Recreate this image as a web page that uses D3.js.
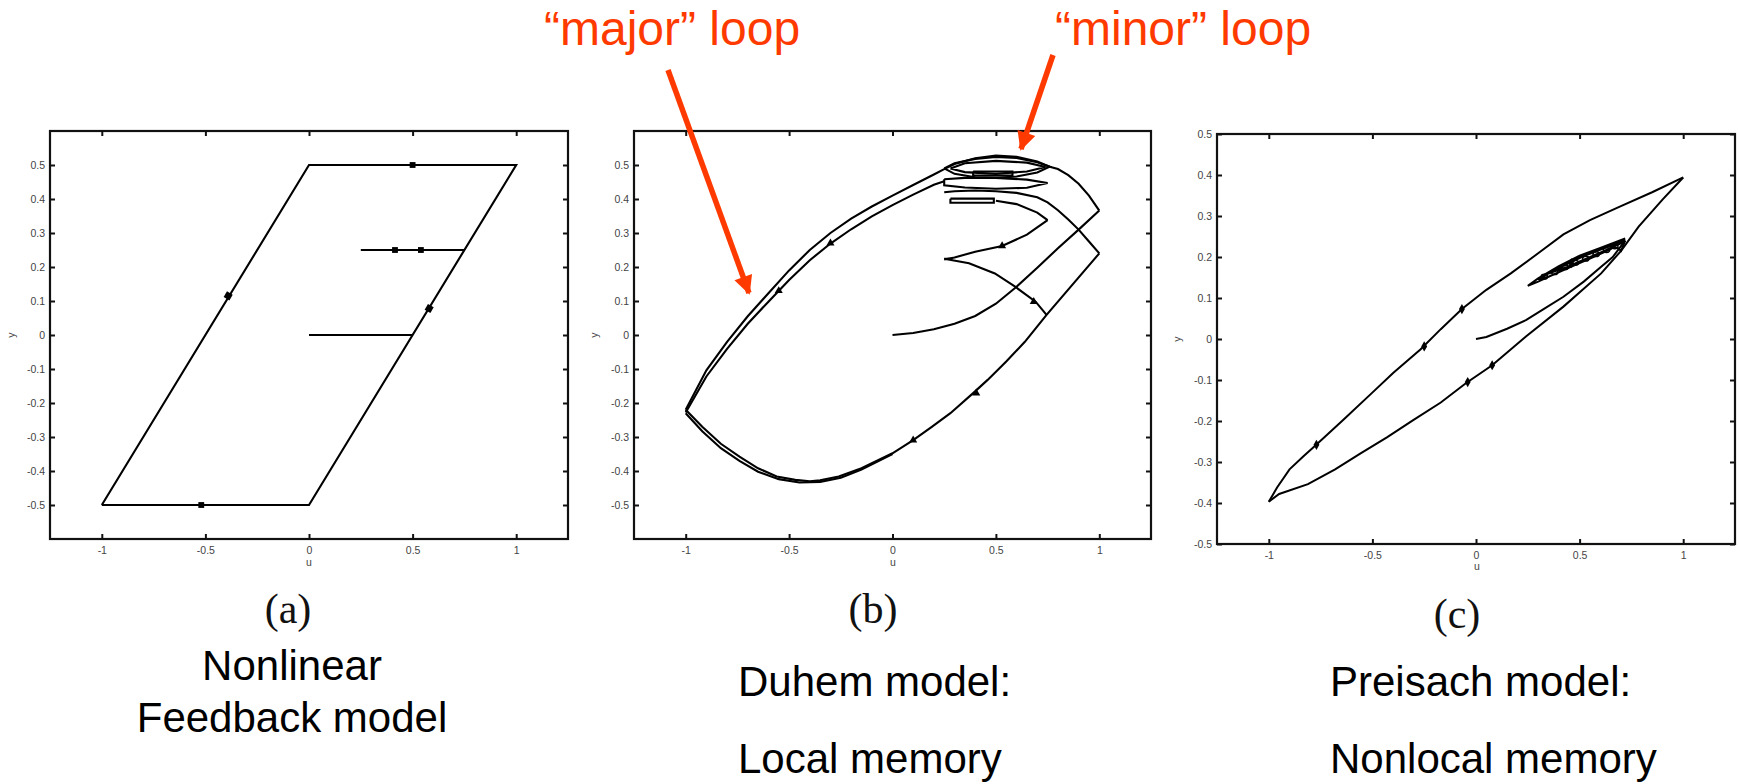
<!DOCTYPE html>
<html><head><meta charset="utf-8">
<script src="https://cdn.jsdelivr.net/npm/d3@7"></script>
<style>
html,body{margin:0;padding:0;background:#fff;}
svg{display:block;}
</style></head>
<body>
<svg id="fig" width="1740" height="784"></svg>
<script>
// ---- tick values ----
const uTicks = [-1, -0.5, 0, 0.5, 1];
const yTicks = [-0.5, -0.4, -0.3, -0.2, -0.1, 0, 0.1, 0.2, 0.3, 0.4, 0.5];

// ---- (a) nonlinear feedback model ----
const nlfMajor = [[-1,-0.5],[0,0.5],[1,0.5],[0,-0.5],[-1,-0.5]];
const nlfStart = [[0,0],[0.5,0]];
const nlfInner = [[0.75,0.25],[0.25,0.25]];
const nlfMarks = [[0.5,0.5],[-0.52,-0.5],[0.415,0.25],[0.54,0.25]];
const nlfSlopeMarks = [[-0.39,0.115],[0.58,0.078]];

// ---- (b) Duhem model ----
const duhemInitial = [[0,0],[0.1,0.006],[0.2,0.017],[0.3,0.033],[0.4,0.056],[0.5,0.092],[0.6,0.142],[0.7,0.198],[0.8,0.255],[0.9,0.31],[1,0.366]];
const duhemUpperOuter = [[1,0.366],[0.95,0.41],[0.9,0.445],[0.85,0.47],[0.8,0.488],[0.76,0.495],[0.7,0.51],[0.6,0.524],[0.5,0.528],[0.4,0.52],[0.3,0.503],[0.25,0.488],[0.2,0.472],[0.1,0.441],[0,0.41],[-0.1,0.378],[-0.2,0.342],[-0.3,0.3],[-0.4,0.25],[-0.5,0.19],[-0.6,0.123],[-0.7,0.055],[-0.8,-0.02],[-0.9,-0.104],[-1,-0.22]];
const duhemLower = [[-1,-0.22],[-0.92,-0.27],[-0.83,-0.32],[-0.74,-0.358],[-0.65,-0.392],[-0.56,-0.416],[-0.47,-0.426],[-0.4,-0.43],[-0.35,-0.427],[-0.26,-0.416],[-0.15,-0.392],[0,-0.348],[0.1,-0.309],[0.19,-0.27],[0.28,-0.23],[0.39,-0.171],[0.46,-0.132],[0.55,-0.078],[0.64,-0.02],[0.745,0.059],[0.89,0.162],[1,0.24]];
const duhemLower2 = [[-1,-0.23],[-0.92,-0.283],[-0.83,-0.333],[-0.74,-0.37],[-0.65,-0.402],[-0.55,-0.424],[-0.45,-0.434],[-0.35,-0.432],[-0.25,-0.42],[-0.15,-0.396],[0,-0.35]];
const duhemUpperInner = [[1,0.24],[0.95,0.275],[0.9,0.31],[0.85,0.34],[0.8,0.367],[0.75,0.39],[0.7,0.405],[0.6,0.418],[0.5,0.423],[0.4,0.425],[0.3,0.423],[0.25,0.42]];
const duhemDescent2 = [[0.25,0.452],[0.2,0.442],[0.1,0.413],[0,0.382],[-0.1,0.349],[-0.2,0.311],[-0.3,0.269],[-0.4,0.22],[-0.5,0.162],[-0.6,0.098],[-0.7,0.033],[-0.8,-0.041],[-0.9,-0.122],[-1,-0.228]];
const duhemMinorA = [[0.25,0.49],[0.3,0.505],[0.4,0.518],[0.5,0.524],[0.6,0.521],[0.7,0.508],[0.76,0.495],[0.7,0.478],[0.6,0.466],[0.5,0.462],[0.4,0.464],[0.3,0.474],[0.25,0.49]];
const duhemMinorB = [[0.28,0.49],[0.35,0.505],[0.5,0.512],[0.65,0.507],[0.74,0.494],[0.65,0.481],[0.5,0.474],[0.35,0.479],[0.28,0.49]];
const duhemMinorC = [[0.39,0.481],[0.58,0.481],[0.58,0.469],[0.39,0.469],[0.39,0.481]];
const duhemMinorD = [[0.25,0.458],[0.35,0.462],[0.5,0.462],[0.65,0.457],[0.75,0.447],[0.65,0.433],[0.5,0.43],[0.35,0.434],[0.25,0.44],[0.25,0.458]];
const duhemMinorE = [[0.28,0.401],[0.49,0.401],[0.49,0.389],[0.28,0.389],[0.28,0.401]];
const duhemReturnUp = [[0.25,0.222],[0.3,0.228],[0.4,0.245],[0.53,0.262],[0.65,0.295],[0.75,0.338]];
const duhemReturnBack = [[0.75,0.338],[0.7,0.36],[0.6,0.385],[0.5,0.395]];
const duhemDrop = [[0.29,0.224],[0.25,0.224],[0.37,0.211],[0.495,0.181],[0.593,0.142],[0.692,0.098],[0.745,0.059]];
const duhemMarks = [[-0.3,0.27],[0.53,0.262],[0.683,0.098],[0.405,-0.171],[-0.55,0.13],[0.1,-0.309]];

// ---- (c) Preisach model ----
const preisUpper = [[-1,-0.397],[-0.96,-0.362],[-0.9,-0.318],[-0.83,-0.285],[-0.775,-0.26],[-0.64,-0.197],[-0.503,-0.132],[-0.4,-0.083],[-0.267,-0.025],[-0.17,0.024],[-0.068,0.073],[0.05,0.12],[0.168,0.16],[0.3,0.209],[0.422,0.255],[0.55,0.29],[0.694,0.323],[0.85,0.358],[1,0.394]];
const preisLower = [[-1,-0.397],[-0.95,-0.378],[-0.811,-0.354],[-0.68,-0.318],[-0.557,-0.279],[-0.43,-0.24],[-0.303,-0.198],[-0.17,-0.155],[-0.049,-0.108],[0.078,-0.064],[0.241,0.006],[0.422,0.079],[0.604,0.16],[0.7,0.215],[0.785,0.274],[0.9,0.34],[1,0.394]];
const preisInitial = [[0,0],[0.05,0.005],[0.15,0.025],[0.241,0.046],[0.33,0.074],[0.422,0.103],[0.52,0.14],[0.604,0.176],[0.66,0.2],[0.72,0.24]];
const preisMinor = [[0.72,0.245],[0.6,0.222],[0.5,0.203],[0.4,0.178],[0.3,0.148],[0.25,0.13],[0.3,0.14],[0.4,0.163],[0.5,0.186],[0.6,0.21],[0.72,0.24],
  [0.6,0.219],[0.5,0.199],[0.4,0.174],[0.3,0.146],[0.35,0.152],[0.45,0.174],[0.55,0.196],[0.65,0.219],[0.72,0.242],
  [0.62,0.222],[0.52,0.202],[0.42,0.178],[0.34,0.158],[0.44,0.176],[0.54,0.198],[0.64,0.219],[0.72,0.238],
  [0.66,0.232],[0.7,0.215],[0.72,0.24]];
const preisLoopRings = [[0.33,0.152],[0.38,0.163],[0.43,0.175],[0.48,0.186],[0.53,0.196],[0.58,0.207],[0.63,0.217],[0.67,0.226]];
const preisMarks = [[-0.068,0.073],[-0.25,-0.018],[-0.77,-0.258],[0.078,-0.064],[0.46,0.185],[-0.04,-0.105]];

// ---- layout ----
const panels = [
  {id:'a', x0:50,  x1:568,  y0:539, y1:131, yDom:[-0.6,0.6], yLab:15,   uLab:[309,566]},
  {id:'b', x0:634, x1:1151, y0:539, y1:131, yDom:[-0.6,0.6], yLab:598,  uLab:[893,566]},
  {id:'c', x0:1217,x1:1735, y0:544, y1:134, yDom:[-0.5,0.5], yLab:1181, uLab:[1477,570]}
];

const svg = d3.select('#fig');
svg.append('rect').attr('width',1740).attr('height',784).attr('fill','#fff');

const fmt = v => (v === 0 ? '0' : String(v));
const sans = 'Liberation Sans, Arial, Helvetica, sans-serif';

function buildPanel(p) {
  const x = d3.scaleLinear().domain([-1.25,1.25]).range([p.x0,p.x1]);
  const y = d3.scaleLinear().domain(p.yDom).range([p.y0,p.y1]);
  const g = svg.append('g').attr('class','panel-'+p.id);
  const tl = 5;
  // ticks point inward on all four sides of the box
  const axB = d3.axisBottom(x).tickValues(uTicks).tickSize(-tl).tickPadding(8).tickFormat(fmt);
  const axT = d3.axisTop(x).tickValues(uTicks).tickSize(-tl).tickFormat('');
  const axL = d3.axisLeft(y).tickValues(yTicks).tickSize(-tl).tickPadding(5).tickFormat(fmt);
  const axR = d3.axisRight(y).tickValues(yTicks).tickSize(-tl).tickFormat('');
  const style = sel => {
    sel.select('.domain').remove();
    sel.selectAll('.tick line').attr('stroke','#111').attr('stroke-width',2);
    sel.selectAll('.tick text').attr('fill','#444').attr('font-family',sans).attr('font-size',10.5);
  };
  g.append('g').attr('transform',`translate(0,${p.y0})`).call(axB).call(style);
  g.append('g').attr('transform',`translate(0,${p.y1})`).call(axT).call(style);
  g.append('g').attr('transform',`translate(${p.x0},0)`).call(axL).call(style);
  g.append('g').attr('transform',`translate(${p.x1},0)`).call(axR).call(style);
  g.append('rect').attr('x',p.x0).attr('y',p.y1).attr('width',p.x1-p.x0).attr('height',p.y0-p.y1)
    .attr('fill','none').attr('stroke','#111').attr('stroke-width',2.2);
  g.append('text').attr('transform',`translate(${p.yLab},${(p.y0+p.y1)/2}) rotate(-90)`)
    .attr('text-anchor','middle').attr('font-family',sans)
    .attr('font-size',10.5).attr('fill','#444').text('y');
  g.append('text').attr('x',p.uLab[0]).attr('y',p.uLab[1]).attr('text-anchor','middle')
    .attr('font-family',sans).attr('font-size',10.5).attr('fill','#444').text('u');
  const line = d3.line().x(d=>x(d[0])).y(d=>y(d[1]));
  const plot = (pts, w=2.1) => g.append('path').attr('d',line(pts)).attr('fill','none')
    .attr('stroke','#000').attr('stroke-width',w).attr('stroke-linejoin','miter');
  const marks = (pts, type, size, rot=0) => g.selectAll(null).data(pts).enter().append('path')
    .attr('transform',d=>`translate(${x(d[0])},${y(d[1])}) rotate(${rot})`)
    .attr('d',d3.symbol().type(type).size(size)).attr('fill','#000');
  const rings = (pts, r) => g.selectAll(null).data(pts).enter().append('ellipse')
    .attr('cx',d=>x(d[0])).attr('cy',d=>y(d[1])).attr('rx',r).attr('ry',r*0.75)
    .attr('fill','none').attr('stroke','#000').attr('stroke-width',1.4);
  return {plot, marks, rings};
}

const A = buildPanel(panels[0]);
A.plot(nlfMajor); A.plot(nlfStart); A.plot(nlfInner);
A.marks(nlfMarks, d3.symbolSquare, 34);
A.marks(nlfSlopeMarks, d3.symbolSquare, 44, 30);

const B = buildPanel(panels[1]);
[duhemInitial, duhemUpperOuter, duhemLower, duhemLower2, duhemUpperInner, duhemDescent2,
 duhemMinorA, duhemMinorB, duhemMinorC, duhemMinorD, duhemMinorE,
 duhemReturnUp, duhemReturnBack, duhemDrop].forEach(s => B.plot(s, 2.1));
B.marks(duhemMarks, d3.symbolTriangle, 28);

const C = buildPanel(panels[2]);
[preisUpper, preisLower, preisInitial, preisMinor].forEach(s => C.plot(s, 2.0));
C.rings(preisLoopRings, 3.2);
C.marks(preisMarks, d3.symbolDiamond, 30);

// ---- annotations ----
const red = '#ff3a00';
const defs = svg.append('defs');
defs.append('marker').attr('id','head').attr('viewBox','0 0 10 10').attr('refX',9).attr('refY',5)
  .attr('markerWidth',4).attr('markerHeight',3.4).attr('orient','auto').attr('markerUnits','strokeWidth')
  .append('path').attr('d','M0,0 L10,5 L0,10 z').attr('fill',red);
const arrows = [
  {from:[668,70], to:[749,293]},
  {from:[1053,55], to:[1021,149]}
];
svg.selectAll('line.arrow').data(arrows).enter().append('line').attr('class','arrow')
  .attr('x1',d=>d.from[0]).attr('y1',d=>d.from[1]).attr('x2',d=>d.to[0]).attr('y2',d=>d.to[1])
  .attr('stroke',red).attr('stroke-width',5.5).attr('marker-end','url(#head)');

const notes = [
  {t:'\u201Cmajor\u201D loop', x:544, y:45},
  {t:'\u201Cminor\u201D loop', x:1055, y:45}
];
svg.selectAll('text.note').data(notes).enter().append('text').attr('class','note')
  .attr('x',d=>d.x).attr('y',d=>d.y).attr('font-family',sans).attr('font-size',48)
  .attr('fill',red).text(d=>d.t);

// ---- captions ----
const serif = 'Liberation Serif, Times New Roman, serif';
const caps = [{t:'(a)',x:288,y:623},{t:'(b)',x:873,y:623},{t:'(c)',x:1457,y:628}];
svg.selectAll('text.cap').data(caps).enter().append('text').attr('class','cap')
  .attr('x',d=>d.x).attr('y',d=>d.y).attr('text-anchor','middle').attr('font-family',serif)
  .attr('font-size',42).attr('fill','#111').text(d=>d.t);
const desc = [
  {t:'Nonlinear', x:292, y:680, a:'middle'},
  {t:'Feedback model', x:292, y:732, a:'middle'},
  {t:'Duhem model:', x:738, y:696, a:'start'},
  {t:'Local memory', x:738, y:773, a:'start'},
  {t:'Preisach model:', x:1330, y:696, a:'start'},
  {t:'Nonlocal memory', x:1330, y:773, a:'start'}
];
svg.selectAll('text.desc').data(desc).enter().append('text').attr('class','desc')
  .attr('x',d=>d.x).attr('y',d=>d.y).attr('text-anchor',d=>d.a).attr('font-family',sans)
  .attr('font-size',42).attr('fill','#000').text(d=>d.t);
</script>
</body></html>
